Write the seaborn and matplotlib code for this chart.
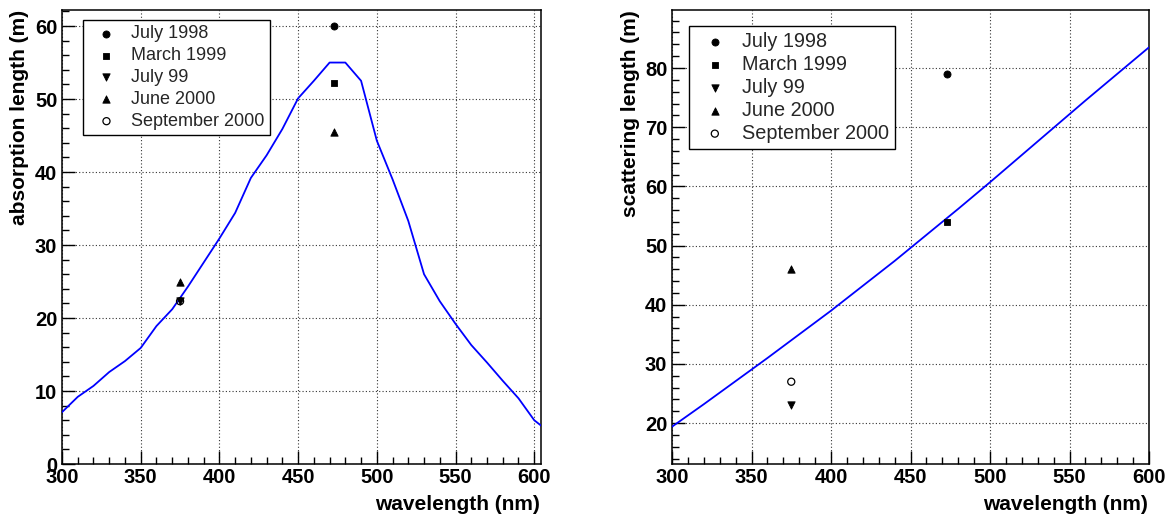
import numpy as np
import pandas as pd
import matplotlib
matplotlib.use("Agg")
import matplotlib.pyplot as plt
from matplotlib.ticker import MultipleLocator
import seaborn as sns

# ---------------- data ----------------
abs_wavelength = [300, 310, 320, 330, 340, 350, 360, 370, 380, 390, 400, 410,
                  420, 430, 440, 450, 460, 470, 480, 490, 500, 510, 520, 530,
                  540, 550, 560, 570, 580, 590, 600, 610]
abs_length = [7.1, 9.2, 10.7, 12.6, 14.1, 15.9, 18.9, 21.2, 24.3, 27.6, 30.9, 34.4,
              39.2, 42.3, 45.9, 50.1, 52.5, 55.0, 55.0, 52.5, 44.3, 39.0, 33.3, 26.0,
              22.3, 19.2, 16.3, 13.9, 11.4, 9.0, 6.0, 4.3]

scat_wavelength = [300, 320, 340, 360, 380, 400, 420, 440, 460, 480, 500, 520,
                   540, 560, 580, 600]
scat_length = [19.4, 23.2, 27.1, 31.0, 35.0, 39.0, 43.2, 47.4, 51.8, 56.2, 60.7,
               65.3, 69.9, 74.5, 79.0, 83.5]

series_labels = ["July 1998", "March 1999", "July 99", "June 2000", "September 2000"]

# measured points, absorption panel
abs_pts_wl = {"July 1998": [473], "March 1999": [473], "July 99": [375],
              "June 2000": [375, 473], "September 2000": [375]}
abs_pts_val = {"July 1998": [60.0], "March 1999": [52.2], "July 99": [22.3],
               "June 2000": [25.0, 45.5], "September 2000": [22.3]}

# measured points, scattering panel
scat_pts_wl = {"July 1998": [473], "March 1999": [473], "July 99": [375],
               "June 2000": [375], "September 2000": [375]}
scat_pts_val = {"July 1998": [79.0], "March 1999": [54.0], "July 99": [23.1],
                "June 2000": [46.0], "September 2000": [27.0]}

x_ticks = [300, 350, 400, 450, 500, 550, 600]
abs_y_ticks = [0, 10, 20, 30, 40, 50, 60]
scat_y_ticks = [20, 30, 40, 50, 60, 70, 80]

# ---------------- style ----------------
sns.set_theme(style="white")
plt.rcParams["font.family"] = ["Liberation Sans", "DejaVu Sans"]

marker_style = {"July 1998": ("o", 26, True),
                "March 1999": ("s", 22, True),
                "July 99": ("v", 28, True),
                "June 2000": ("^", 28, True),
                "September 2000": ("o", 26, False)}

W, H = 1168, 515
fig = plt.figure(figsize=(W / 100, H / 100), dpi=100)

def fx(px):
    return px / W

def fy(py):
    return 1 - py / H

ax1 = fig.add_axes([fx(62), fy(464), (541 - 62) / W, (464 - 10) / H])
ax2 = fig.add_axes([fx(672), fy(464), (1149 - 672) / W, (464 - 10) / H])


def draw_panel(ax, cx, cy, pts_wl, pts_val, xlim, ylim, yticks, ylabel,
               leg_xy, leg_fs, leg_spacing):
    sns.lineplot(x=cx, y=cy, ax=ax, color="#0000ff", linewidth=1.3,
                 sort=False, estimator=None, zorder=3)
    for lab in series_labels:
        m, s, filled = marker_style[lab]
        sns.scatterplot(x=pts_wl[lab], y=pts_val[lab], ax=ax, marker=m, s=s,
                        color="black", edgecolor="black", linewidth=0.6,
                        label=lab, zorder=4)
        coll = ax.collections[-1]
        if not filled:
            coll.set_facecolor("none")
            coll.set_edgecolor("black")
            coll.set_linewidth(0.9)
    ax.set_xlim(*xlim)
    ax.set_ylim(*ylim)
    ax.set_xticks(x_ticks)
    ax.set_yticks(yticks)
    ax.xaxis.set_minor_locator(MultipleLocator(10))
    ax.yaxis.set_minor_locator(MultipleLocator(2))
    ax.tick_params(which="both", direction="in", top=False, right=False,
                   bottom=True, left=True, color="black", width=1.0,
                   labelsize=14.5, labelcolor="black")
    ax.tick_params(which="major", length=9.5)
    ax.tick_params(which="minor", length=4.7)
    ax.tick_params(axis="x", which="major", pad=3.2)
    ax.tick_params(axis="y", which="major", pad=3.4)
    for t in ax.get_xticklabels() + ax.get_yticklabels():
        t.set_fontweight("bold")
    ax.grid(True, which="major", linestyle=(0, (1, 2)), color="#333333",
            linewidth=0.8)
    ax.set_axisbelow(True)
    for sp in ax.spines.values():
        sp.set_color("black")
        sp.set_linewidth(1.1)
        sp.set_visible(True)
    ax.set_xlabel("wavelength (nm)", fontsize=15, fontweight="bold",
                  color="black", loc="right")
    ax.xaxis.set_label_coords(0.997, -0.068)
    ax.set_ylabel(ylabel, fontsize=15, fontweight="bold", color="black",
                  loc="top")
    ax.yaxis.set_label_coords(-0.068, 1.0)
    leg = ax.legend(loc="upper left", bbox_to_anchor=(fx(leg_xy[0]), fy(leg_xy[1])),
                    bbox_transform=fig.transFigure, borderaxespad=0,
                    frameon=True, fancybox=False, edgecolor="black",
                    framealpha=1, fontsize=leg_fs, handlelength=2.0,
                    handletextpad=0.35, borderpad=0.3,
                    labelspacing=leg_spacing, scatterpoints=1)
    leg.get_frame().set_linewidth(1.0)
    leg.set_zorder(10)


draw_panel(ax1, abs_wavelength, abs_length, abs_pts_wl, abs_pts_val,
           (300, 604.3), (0, 62.2), abs_y_ticks, "absorption length (m)",
           (83, 20), 13, 0.27)
draw_panel(ax2, scat_wavelength, scat_length, scat_pts_wl, scat_pts_val,
           (300, 600), (13.1, 89.8), scat_y_ticks, "scattering length (m)",
           (689, 26), 14.3, 0.2)

fig.savefig("out.png", dpi=100)
